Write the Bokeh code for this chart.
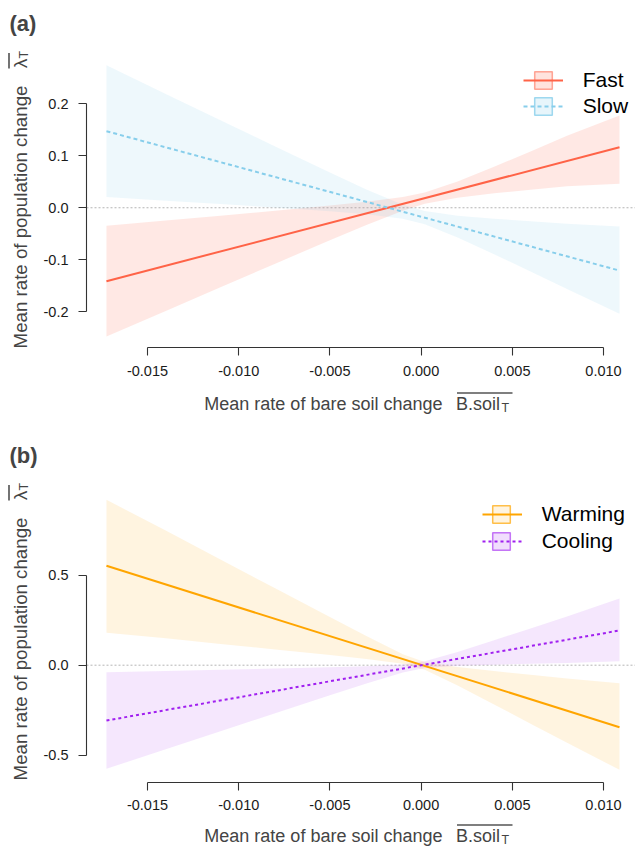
import math
from bokeh.plotting import figure
from bokeh.models import (Label, Arrow, Legend, LegendItem, FixedTicker,
                          NumeralTickFormatter, Range1d, LinearAxis)
from bokeh.layouts import column
from bokeh.embed import file_html
from bokeh.resources import INLINE

# ---------------- data ----------------
bare_soil_line = [-0.01725, 0.010877]
fast_fit = [-0.1415, 0.1164]
slow_fit = [0.1475, -0.1211]
warming_fit = [0.5531, -0.3450]
cooling_fit = [-0.3077, 0.1931]

bare_soil_band = [-0.01725, -0.014, -0.011, -0.008, -0.005, -0.003, -0.001,
                  0.0002, 0.002, 0.004, 0.006, 0.008, 0.010877]
fast_lower = [-0.2481, -0.1987, -0.1531, -0.1077, -0.0626, -0.0331, -0.0057,
              0.0075, 0.0195, 0.0279, 0.0348, 0.0414, 0.0463]
fast_upper = [-0.0349, -0.0247, -0.0153, -0.0057, 0.0042, 0.0115, 0.0207,
              0.0295, 0.0505, 0.0789, 0.1086, 0.1386, 0.1777]
slow_lower = [0.0205, 0.0136, 0.0070, 0.0004, -0.0067, -0.0123, -0.0211,
              -0.0319, -0.0572, -0.0896, -0.1229, -0.1565, -0.2043]
slow_upper = [0.2745, 0.2194, 0.1686, 0.1180, 0.0677, 0.0351, 0.0057,
              -0.0063, -0.0154, -0.0212, -0.0261, -0.0307, -0.0361]
warming_lower = [0.1803, 0.1496, 0.1186, 0.0875, 0.0561, 0.0343, 0.0078,
                 -0.0259, -0.1134, -0.2187, -0.3253, -0.4320, -0.5821]
warming_upper = [0.9204, 0.7490, 0.5884, 0.4279, 0.2679, 0.1619, 0.0606,
                 0.0177, -0.0098, -0.0321, -0.0533, -0.0742, -0.1002]
cooling_lower = [-0.5765, -0.4677, -0.3674, -0.2672, -0.1674, -0.1017, -0.0401,
                 -0.0153, -0.0031, 0.0029, 0.0078, 0.0124, 0.0223]
cooling_upper = [-0.0389, -0.0319, -0.0254, -0.0188, -0.0118, -0.0063, 0.0033,
                 0.0213, 0.0733, 0.1385, 0.2048, 0.2714, 0.3710]

x_ticks = [-0.015, -0.010, -0.005, 0.0, 0.005, 0.010]
y_ticks_a = [-0.2, -0.1, 0.0, 0.1, 0.2]
y_ticks_b = [-0.5, 0.0, 0.5]

FONT = "Liberation Sans"
W, H = 635, 424
S = 6.5  # correction for where Bokeh draws a label's baseline


# pixel -> data helpers for placing text annotations (reference pixels)
def X(px):
    return (px - 420.6) / 18240.0


def Ya(py):
    return (207.25 - py) / 519.0


def Yb(py):
    return (664.7 - py) / 179.7


def band_polygon(lower, upper):
    xs = list(bare_soil_band) + list(reversed(bare_soil_band))
    ys = list(lower) + list(reversed(upper))
    return xs, ys


def base_fig(Y, top_px, bottom_px, xaxis_px, y_ticks):
    p = figure(width=W, height=H, output_backend="svg", toolbar_location=None,
               x_range=Range1d(X(0), X(W)), y_range=Range1d(Y(bottom_px), Y(top_px)),
               min_border=0, title=None, x_axis_type=None, y_axis_type=None)
    p.outline_line_color = None
    p.background_fill_color = "white"
    p.border_fill_color = "white"
    xax = LinearAxis(ticker=FixedTicker(ticks=x_ticks),
                     formatter=NumeralTickFormatter(format="0.000"),
                     bounds=(x_ticks[0], x_ticks[-1]), fixed_location=Y(xaxis_px))
    yax = LinearAxis(ticker=FixedTicker(ticks=y_ticks),
                     formatter=NumeralTickFormatter(format="0.0"),
                     bounds=(y_ticks[0], y_ticks[-1]), fixed_location=X(86))
    for ax in (xax, yax):
        ax.axis_line_color = "#333333"
        ax.axis_line_width = 1.1
        ax.major_tick_line_color = "#333333"
        ax.major_tick_line_width = 1.1
        ax.major_tick_in = 0
        ax.major_tick_out = 8
        ax.minor_tick_line_color = None
        ax.major_label_standoff = 10
        ax.major_label_text_font = FONT
        ax.major_label_text_font_size = "14.5px"
        ax.major_label_text_color = "#1a1a1a"
    p.add_layout(xax, "below")
    p.add_layout(yax, "left")
    # dotted zero reference line, from the y axis rightwards
    p.ray(x=[X(86)], y=[0], length=0, angle=0, line_color="#b5b5b5",
          line_dash="2 2", line_width=1)
    return p


def add_texts(p, Y, dy, panel, xt_base):
    p.add_layout(Label(x=X(9), y=Y(29 + dy - S), text=panel, text_font=FONT,
                       text_font_style="bold", text_font_size="22px",
                       text_baseline="alphabetic", text_align="left"))
    # x title
    p.add_layout(Label(x=X(322.9), y=Y(xt_base - S), text="Mean rate of bare soil change",
                       text_font=FONT, text_font_size="18px", text_align="center",
                       text_baseline="alphabetic"))
    p.add_layout(Label(x=X(455.5), y=Y(xt_base - S), text="B.soil", text_font=FONT,
                       text_font_size="18px", text_align="left", text_baseline="alphabetic"))
    p.add_layout(Label(x=X(501), y=Y(xt_base + 3.5 - S), text="T", text_font=FONT,
                       text_font_size="12.5px", text_align="left", text_baseline="alphabetic"))
    p.add_layout(Arrow(end=None, x_start=X(456.5), y_start=Y(xt_base - 17.5),
                       x_end=X(512), y_end=Y(xt_base - 17.5), line_color="black", line_width=1.1))
    # y title (rotated)
    p.add_layout(Label(x=X(26 - S), y=Y(216.5 + dy), text="Mean rate of population change",
                       angle=math.pi / 2, text_font=FONT, text_font_size="18.7px",
                       text_align="center", text_baseline="alphabetic"))
    p.add_layout(Label(x=X(26 - S), y=Y(67.5 + dy), text="\u03bb", angle=math.pi / 2,
                       text_font=FONT, text_font_size="18.7px", text_align="left",
                       text_baseline="alphabetic"))
    p.add_layout(Label(x=X(29.5 - S), y=Y(58 + dy), text="T", angle=math.pi / 2,
                       text_font=FONT, text_font_size="12.5px", text_align="left",
                       text_baseline="alphabetic"))
    p.add_layout(Arrow(end=None, x_start=X(8.5), y_start=Y(52.5 + dy),
                       x_end=X(8.5), y_end=Y(68 + dy), line_color="black", line_width=1.1))


def add_legends(p, r_lines, r_boxes, labels, line_left, box_center, row1, row_gap, canvas_bottom):
    items_a = [LegendItem(label=l, renderers=[r]) for l, r in zip(labels, r_lines)]
    top_a = row1 - 13
    leg_a = Legend(items=items_a, location=(line_left, canvas_bottom - (top_a + 26 + row_gap)),
                   padding=0, margin=0, spacing=row_gap - 26, glyph_width=40, glyph_height=26,
                   label_height=26, label_standoff=20, label_text_font=FONT,
                   label_text_font_size="21px", label_text_color="black",
                   border_line_color=None, background_fill_alpha=0)
    items_b = [LegendItem(label=" ", renderers=[r]) for r in r_boxes]
    top_b = row1 - 11
    leg_b = Legend(items=items_b, location=(box_center - 11, canvas_bottom - (top_b + 22 + row_gap)),
                   padding=0, margin=0, spacing=row_gap - 22, glyph_width=22, glyph_height=22,
                   label_height=22, label_width=0, label_standoff=0,
                   label_text_font_size="1px", label_text_alpha=0,
                   border_line_color=None, background_fill_alpha=0)
    p.add_layout(leg_b)
    p.add_layout(leg_a)


# ---------------- panel (a) ----------------
pa = base_fig(Ya, 0, H, 347, y_ticks_a)
pa.varea(x=bare_soil_band, y1=fast_lower, y2=fast_upper, fill_color="tomato", fill_alpha=0.15)
pa.varea(x=bare_soil_band, y1=slow_lower, y2=slow_upper, fill_color="skyblue", fill_alpha=0.14)
r_fast = pa.line(bare_soil_line, fast_fit, line_color="tomato", line_width=2)
r_slow = pa.line(bare_soil_line, slow_fit, line_color="skyblue", line_width=2, line_dash="4 3")
fx, fy = band_polygon(fast_lower, fast_upper)
b_fast = pa.patch(x=fx, y=fy, fill_color="tomato", fill_alpha=0.18, line_color="tomato",
                  line_alpha=0.55, line_width=1.5, visible=False)
sx, sy = band_polygon(slow_lower, slow_upper)
b_slow = pa.patch(x=sx, y=sy, fill_color="skyblue", fill_alpha=0.2, line_color="skyblue",
                  line_alpha=0.8, line_width=1.5, visible=False)
add_legends(pa, [r_fast, r_slow], [b_fast, b_slow], ["Fast", "Slow"],
            522.7, 542.5, 80, 26, H)
add_texts(pa, Ya, 0, "(a)", 410)

# ---------------- panel (b) ----------------
pb = base_fig(Yb, H, 2 * H, 781.7, y_ticks_b)
pb.varea(x=bare_soil_band, y1=warming_lower, y2=warming_upper, fill_color="orange", fill_alpha=0.12)
pb.varea(x=bare_soil_band, y1=cooling_lower, y2=cooling_upper, fill_color="#A020F0", fill_alpha=0.11)
r_warm = pb.line(bare_soil_line, warming_fit, line_color="orange", line_width=2)
r_cool = pb.line(bare_soil_line, cooling_fit, line_color="#A020F0", line_width=2, line_dash="3 3")
wx, wy = band_polygon(warming_lower, warming_upper)
b_warm = pb.patch(x=wx, y=wy, fill_color="orange", fill_alpha=0.12, line_color="orange",
                  line_alpha=0.7, line_width=1.5, visible=False)
cx, cy = band_polygon(cooling_lower, cooling_upper)
b_cool = pb.patch(x=cx, y=cy, fill_color="#A020F0", fill_alpha=0.15, line_color="#A020F0",
                  line_alpha=0.6, line_width=1.5, visible=False)
add_legends(pb, [r_warm, r_cool], [b_warm, b_cool], ["Warming", "Cooling"],
            481.7, 501, 514, 27, 2 * H)
add_texts(pb, Yb, 432, "(b)", 842)

layout = column(pa, pb, spacing=0)
open("out.html", "w").write(file_html(layout, INLINE))
